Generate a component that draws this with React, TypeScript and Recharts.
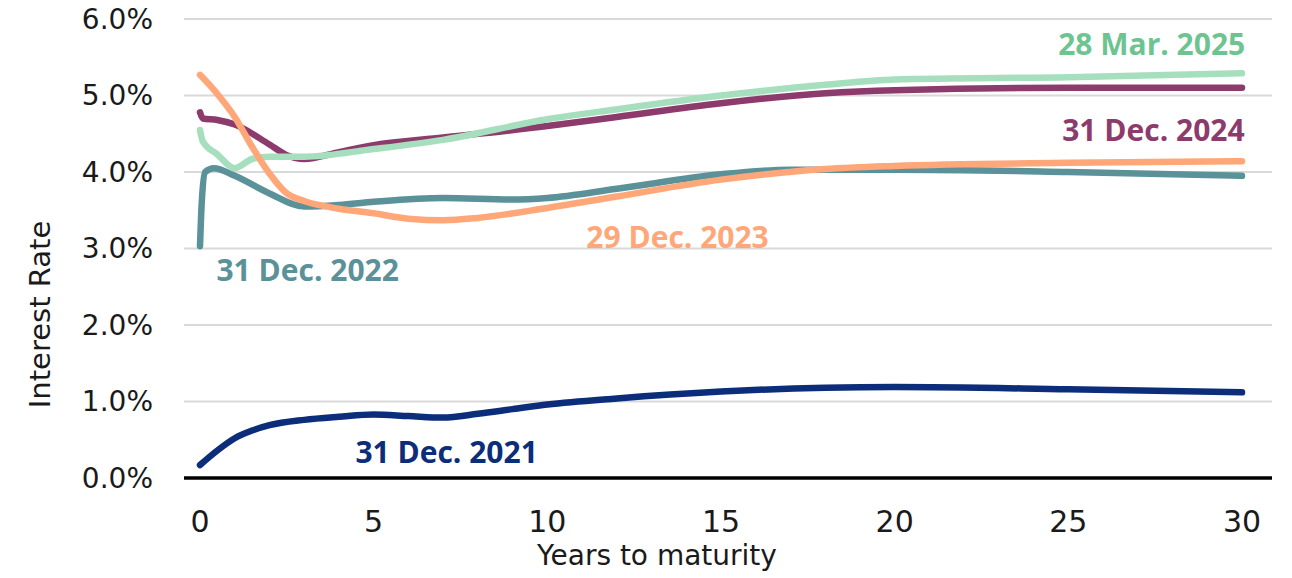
import React from 'react';
import { LineChart, Line, XAxis, YAxis, CartesianGrid, ReferenceDot } from 'recharts';

// Yield curves: [years to maturity, rate %]
type Pt = { x: number; y: number };
const toPts = (rows: number[][]): Pt[] => rows.map(([x, y]) => ({ x, y }));

const dec2021 = toPts([
  [0, 0.17], [0.5, 0.36], [1, 0.52], [1.5, 0.62], [2, 0.69], [3, 0.76], [4, 0.8], [5, 0.83],
  [6, 0.81], [7, 0.79], [8, 0.84], [9, 0.9], [10, 0.96], [12, 1.04], [15, 1.13], [18, 1.18],
  [20, 1.19], [25, 1.16], [30, 1.12],
]);

const dec2022 = toPts([
  [0, 3.03], [0.05, 3.6], [0.15, 4.0], [0.4, 4.05], [1, 3.95], [2, 3.72], [3, 3.55], [4, 3.57],
  [5, 3.61], [7, 3.66], [9, 3.64], [10, 3.66], [12, 3.78], [15, 3.97], [17, 4.03], [20, 4.03],
  [25, 4.0], [30, 3.95],
]);

const dec2023 = toPts([
  [0, 5.27], [0.5, 5.02], [1, 4.72], [1.5, 4.33], [2, 3.98], [2.5, 3.72], [3, 3.62], [4, 3.52],
  [5, 3.46], [6, 3.39], [7, 3.37], [8, 3.4], [10, 3.53], [12, 3.68], [15, 3.9], [18, 4.04],
  [20, 4.08], [25, 4.12], [30, 4.14],
]);

const dec2024 = toPts([
  [0, 4.78], [0.08, 4.7], [0.5, 4.68], [1, 4.62], [2, 4.36], [2.5, 4.22], [3, 4.17], [4, 4.26],
  [5, 4.35], [7, 4.45], [10, 4.6], [12, 4.72], [15, 4.9], [18, 5.03], [20, 5.07], [25, 5.1],
  [30, 5.1],
]);

const mar2025 = toPts([
  [0, 4.55], [0.08, 4.4], [0.5, 4.23], [1, 4.05], [1.5, 4.17], [2, 4.2], [3, 4.2], [5, 4.3],
  [7, 4.42], [10, 4.69], [12, 4.82], [15, 5.0], [18, 5.14], [20, 5.21], [25, 5.24], [30, 5.29],
]);

const xTicks = [0, 5, 10, 15, 20, 25, 30];
const yTicks = [0, 1, 2, 3, 4, 5, 6];

// Curve name tags: label text, anchor (years, rate)
const tags = [
  { text: '28 Mar. 2025', x: 27.4, y: 5.67, color: '#6dc491' },
  { text: '31 Dec. 2024', x: 27.45, y: 4.55, color: '#8c3b6c' },
  { text: '29 Dec. 2023', x: 13.75, y: 3.15, color: '#ffa779' },
  { text: '31 Dec. 2022', x: 3.1, y: 2.71, color: '#5b9198' },
  { text: '31 Dec. 2021', x: 7.1, y: 0.33, color: '#0b2d7a' },
];

const AXIS_FONT = 'DejaVu Sans, sans-serif';
const TAG_FONT = '"Open Sans", sans-serif';

const YLabel = (props: any) => {
  const vb = props.viewBox;
  const cx = vb.x + 40;
  const cy = vb.y + vb.height / 2 + 66;
  return (
    <text
      x={cx}
      y={cy}
      transform={`rotate(-90, ${cx}, ${cy})`}
      textAnchor="middle"
      dominantBaseline="central"
      fontFamily={AXIS_FONT}
      fontSize={29}
      fill="#1a1a1a"
    >
      Interest Rate
    </text>
  );
};

const XLabel = (props: any) => {
  const vb = props.viewBox;
  return (
    <text
      x={vb.x + 473}
      y={vb.y + 87}
      textAnchor="middle"
      fontFamily={AXIS_FONT}
      fontSize={28}
      fill="#1a1a1a"
    >
      Years to maturity
    </text>
  );
};

const lineProps = {
  type: 'monotone' as const,
  dataKey: 'y',
  dot: false,
  strokeWidth: 6.5,
  strokeLinecap: 'round' as const,
  strokeLinejoin: 'round' as const,
  isAnimationActive: false,
};

export default function App() {
  return (
    <div style={{ position: 'absolute', left: 0, top: 0, background: '#fff' }}>
      <LineChart width={1292} height={578} margin={{ top: 19, right: 20, left: 0, bottom: 0 }}>
        <CartesianGrid vertical={false} stroke="#d9d9d9" strokeWidth={2} />
        <XAxis
          type="number"
          dataKey="x"
          domain={[0, 30]}
          ticks={xTicks}
          allowDuplicatedCategory={false}
          padding={{ left: 16, right: 30 }}
          height={100}
          tickLine={false}
          tickSize={0}
          tickMargin={33}
          axisLine={{ stroke: '#000', strokeWidth: 3.5 }}
          tick={{ fill: '#1a1a1a', fontSize: 30, fontFamily: AXIS_FONT }}
          label={<XLabel />}
        />
        <YAxis
          type="number"
          domain={[0, 6]}
          ticks={yTicks}
          width={184}
          axisLine={false}
          tickLine={false}
          tickSize={0}
          tickMargin={31}
          tickFormatter={(v: number) => `${v.toFixed(1)}%`}
          tick={{ fill: '#1a1a1a', fontSize: 28, fontFamily: AXIS_FONT }}
          label={<YLabel />}
        />
        <Line {...lineProps} data={dec2021} stroke="#0b2d7a" name="31 Dec. 2021" />
        <Line {...lineProps} data={dec2022} stroke="#5b9198" name="31 Dec. 2022" />
        <Line {...lineProps} data={dec2024} stroke="#8c3b6c" name="31 Dec. 2024" />
        <Line {...lineProps} data={mar2025} stroke="#a6dfbd" name="28 Mar. 2025" />
        <Line {...lineProps} data={dec2023} stroke="#ffa779" name="29 Dec. 2023" />
        {tags.map((t) => (
          <ReferenceDot
            key={t.text}
            x={t.x}
            y={t.y}
            r={1}
            fill="none"
            stroke="none"
            label={{
              value: t.text,
              position: 'center',
              fill: t.color,
              fontSize: 30,
              fontWeight: 700,
              fontFamily: TAG_FONT,
            }}
          />
        ))}
      </LineChart>
    </div>
  );
}
